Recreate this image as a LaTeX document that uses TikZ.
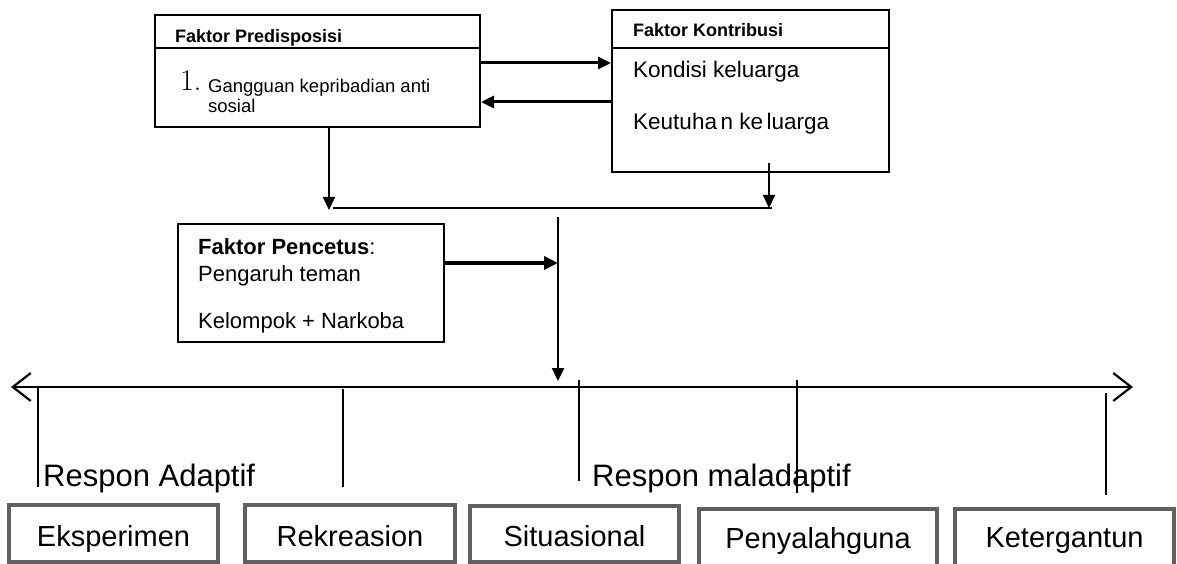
\documentclass[tikz,border=0pt]{standalone}
\usepackage{fontspec}
\setsansfont{Liberation Sans}
\usetikzlibrary{arrows.meta}

\begin{document}
\begin{tikzpicture}[x=1pt, y=-1pt,
  box/.style={draw, line width=2pt, inner sep=0pt},
  respbox/.style={draw=black!62, line width=4pt, inner sep=0pt},
  txt/.style={anchor=base west, inner sep=0pt, font=\sffamily\fontsize{#1}{#1}\selectfont},
  ctxt/.style={anchor=base, inner sep=0pt, font=\sffamily\fontsize{#1}{#1}\selectfont},
  arr/.style={-{Triangle[length=13pt,width=12pt]}, line width=2pt},
  axis/.style={{Straight Barb[length=18pt,width=28pt]}-{Straight Barb[length=18pt,width=28pt]}, line width=2.2pt},
  tick/.style={line width=1.4pt}]
\clip (0,0) rectangle (1177,564);

% upper boxes
\node [box, minimum width=325pt, minimum height=112pt] (pre) at (317.5,71) {};
\draw [line width=2pt] (pre.west |- 0,48) -- (pre.east |- 0,48);
\node [txt=18] (pretitle) at (175,43) {\bfseries Faktor Predisposisi};
\node [anchor=base west, inner sep=0pt, font=\rmfamily\fontsize{30}{30}\selectfont] (prenum) at (180,91) {1.};
\node [txt=18.5] (preline1) at (208,93) {Gangguan kepribadian anti};
\node [txt=18.5] (preline2) at (208,113) {sosial};

\node [box, minimum width=277pt, minimum height=162pt] (kon) at (750.5,91) {};
\draw [line width=2pt] (kon.west |- 0,48) -- (kon.east |- 0,48);
\node [txt=18] (kontitle) at (633,37) {\bfseries Faktor Kontribusi};
\node [txt=22.5] (konline1) at (633,78) {Kondisi keluarga};
\node [txt=22.5] (konline2) at (633,130) {Keutuha\hspace{3.5pt}n ke\hspace{3.5pt}luarga};

\draw [arr, line width=3pt] (pre.east |- 0,63) -- (kon.west |- 0,63);
\draw [arr, line width=3pt] (kon.west |- 0,102) -- (pre.east |- 0,102);

% joining line
\coordinate (preend) at (329,210);
\coordinate (konstart) at (769,163);
\coordinate (konend) at (769,208);
\coordinate (joinL) at (333,208);
\coordinate (joinR) at (772,208);
\draw [arr] (pre.south -| preend) -- (preend);
\draw [arr] (konstart) -- (konend);
\draw [line width=2pt] (joinL) -- (joinR);

% faktor pencetus
\node [box, minimum width=266pt, minimum height=118pt] (pen) at (311,283) {};
\node [txt=22] (pentitle) at (198,254) {\bfseries Faktor Pencetus\mdseries:};
\node [txt=22] (penline1) at (198,281) {Pengaruh teman};
\node [txt=22] (penline2) at (198,328) {Kelompok + Narkoba};

\coordinate (midtop) at (558,217);
\coordinate (midend) at (558,381);
\draw [arr, line width=2.4pt] (midtop) -- (midend);
\draw [-{Triangle[length=14pt,width=13pt]}, line width=4.5pt] (pen.east |- 0,263) -- (midtop |- 0,263);

% response scale
\coordinate (axL) at (11,387);
\coordinate (axR) at (1133,387);
\draw [axis] (axL) -- (axR);
\foreach \n/\x/\ya/\yb in {1/38/387/487, 2/343/389/487, 3/579/380/481, 4/797/380/493, 5/1106/393/495} {
  \coordinate (tick\n a) at (\x,\ya);
  \coordinate (tick\n b) at (\x,\yb);
  \draw [tick] (tick\n a) -- (tick\n b);
}
\node [txt=31] (adaptif) at (43,486) {Respon Adaptif};
\node [txt=31] (maladaptif) at (592,486) {Respon maladaptif};

% response boxes
\node [respbox, minimum width=209pt, minimum height=57pt] (eks) at (113.5,533.5) {};
\node [respbox, minimum width=210pt, minimum height=57pt] (rek) at (350,533.5) {};
\node [respbox, minimum width=209pt, minimum height=56pt] (sit) at (574.5,534) {};
\node [respbox, minimum width=238pt, minimum height=59pt] (pny) at (818,538.5) {};
\node [respbox, minimum width=219pt, minimum height=59pt] (ket) at (1064.5,538.5) {};
\node [ctxt=29] (ekstext) at (eks |- 0,546) {Eksperimen};
\node [ctxt=29] (rektext) at (rek |- 0,546) {Rekreasion};
\node [ctxt=29] (sittext) at (sit |- 0,546) {Situasional};
\node [ctxt=29] (pnytext) at (pny |- 0,548) {Penyalahguna};
\node [ctxt=29] (kettext) at (ket |- 0,547) {Ketergantun};
\end{tikzpicture}
\end{document}
